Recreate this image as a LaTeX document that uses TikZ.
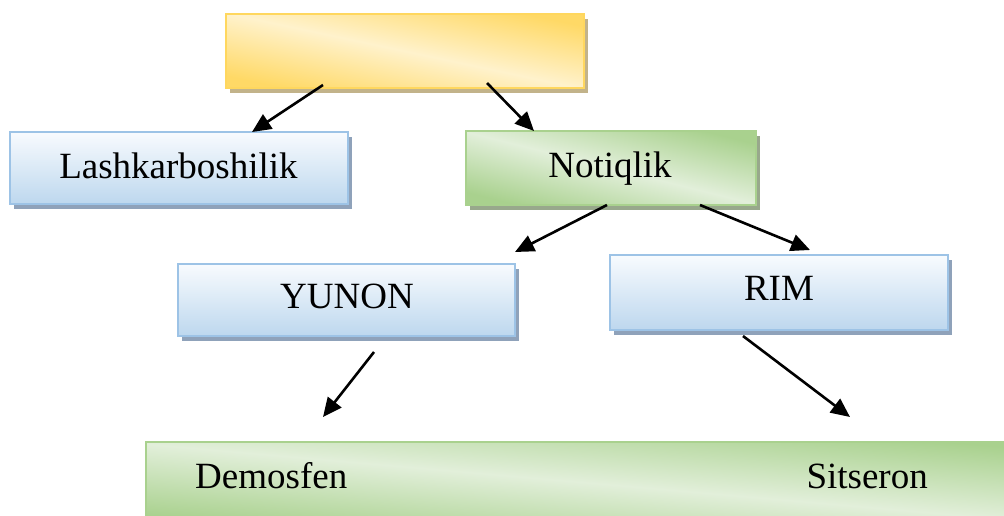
\documentclass[tikz,border=0pt]{standalone}
\usepackage{fontspec}
\setmainfont{Liberation Serif}
\usetikzlibrary{shadows,arrows.meta}
\definecolor{bborder}{HTML}{9DC3E6}
\definecolor{btop}{HTML}{F8FBFE}
\definecolor{bbot}{HTML}{BDD7EE}
\definecolor{bshadow}{HTML}{8FA2BA}
\definecolor{gborder}{HTML}{A9D18E}
\definecolor{gdark}{HTML}{A9D18E}
\definecolor{glight}{HTML}{E2EFDA}
\definecolor{gshadow}{HTML}{98A88C}
\definecolor{yborder}{HTML}{FFD75E}
\definecolor{ydark}{HTML}{FFD966}
\definecolor{ylight}{HTML}{FFF2CC}
\definecolor{yshadow}{HTML}{C2B38A}
\begin{document}
\begin{tikzpicture}[x=1pt,y=-1pt,
  bluebox/.style={rectangle, draw=bborder, line width=1.3pt, inner sep=0pt,
    top color=btop, bottom color=bbot,
    drop shadow={shadow xshift=4pt, shadow yshift=-5pt, fill=bshadow, opacity=1}},
  greenbox/.style={rectangle, draw=gborder, line width=1.3pt, inner sep=0pt,
    top color=gdark, bottom color=gdark, middle color=glight,
    drop shadow={shadow xshift=4pt, shadow yshift=-5pt, fill=gshadow, opacity=1}},
  goldbox/.style={rectangle, draw=yborder, line width=1.3pt, inner sep=0pt,
    top color=ydark, bottom color=ydark, middle color=ylight,
    drop shadow={shadow xshift=4pt, shadow yshift=-5pt, fill=yshadow, opacity=1}},
  lbl/.style={font=\fontsize{37}{40}\selectfont, anchor=base, inner sep=0pt},
  arr/.style={-{Triangle[length=19pt,width=17pt]}, line width=2.6pt}
]
\useasboundingbox (0,0) rectangle (1004,515);
\clip (0,0) rectangle (1004,515);
\fill[white] (0,0) rectangle (1004,515);

\node[goldbox, shading angle=-12, minimum width=358pt, minimum height=74pt] (top) at (405,51) {};
\node[bluebox, minimum width=338pt, minimum height=72pt] (lash) at (179,168) {};
\node[greenbox, shading angle=-14, minimum width=290pt, minimum height=74pt] (notiq) at (611,168) {};
\node[bluebox, minimum width=337pt, minimum height=72pt] (yunon) at (346.5,300) {};
\node[bluebox, minimum width=338pt, minimum height=75pt] (rim) at (779,292.5) {};
\node[greenbox, shading angle=-5, minimum width=870pt, minimum height=80pt] (bottom) at (581,482) {};

\node[lbl] (tl) at (178.5,178) {Lashkarboshilik};
\node[lbl] (tn) at (610,177) {Notiqlik};
\node[lbl] (ty) at (347,308) {YUNON};
\node[lbl] (tr) at (779,300) {RIM};
\node[lbl, anchor=base west] (td) at (195,488) {Demosfen};
\node[lbl, anchor=base east] (ts) at (928,488) {Sitseron};

\coordinate (s1) at (323,85);  \coordinate (e1) at (252,132);
\coordinate (s2) at (487,83);  \coordinate (e2) at (534,131);
\coordinate (s3) at (607,205); \coordinate (e3) at (515,252);
\coordinate (s4) at (700,205); \coordinate (e4) at (810,250);
\coordinate (s5) at (374,352); \coordinate (e5) at (323,417);
\coordinate (s6) at (743,336); \coordinate (e6) at (850,417);

\draw[arr] (s1) -- (e1);
\draw[arr] (s2) -- (e2);
\draw[arr] (s3) -- (e3);
\draw[arr] (s4) -- (e4);
\draw[arr] (s5) -- (e5);
\draw[arr] (s6) -- (e6);
\end{tikzpicture}
\end{document}
